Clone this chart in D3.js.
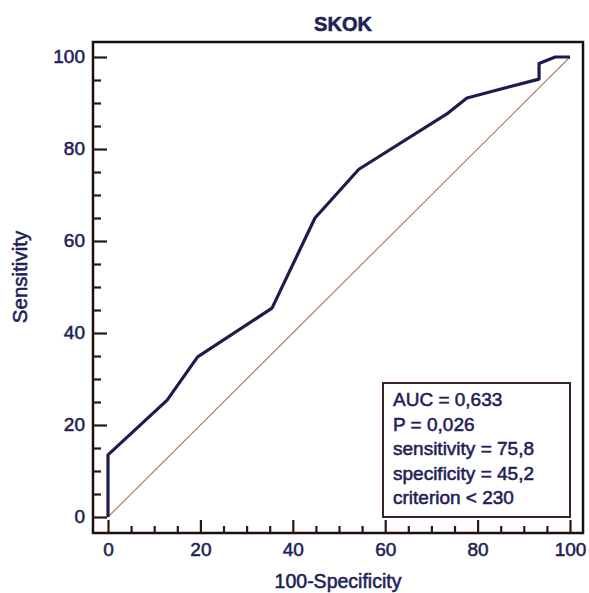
<!DOCTYPE html>
<html>
<head>
<meta charset="utf-8">
<script src="https://cdn.jsdelivr.net/npm/d3@7"></script>
<style>
  html, body { margin: 0; padding: 0; background: #fff; }
  svg { display: block; }
  text { font-family: "Liberation Sans", Arial, sans-serif; fill: #1e2256; stroke: #1e2256; stroke-width: 0.55; }
</style>
</head>
<body>
<svg id="chart" width="589" height="593"></svg>
<script>
// ROC curve points (100-Specificity, Sensitivity)
const fprValues = [0, 0, 12.8, 19.4, 35.5, 44.8, 54.3, 73.6, 77.7, 93.3, 93.3, 96.8, 100];
const tprValues = [0, 13.5, 25.4, 34.8, 45.4, 65, 75.6, 87.8, 91.1, 95.2, 98.6, 100, 100];
const majorTicks = [0, 20, 40, 60, 80, 100];
const minorTicks = d3.range(0, 101, 5).filter(v => v % 20 !== 0);
const title = "SKOK";
const xLabel = "100-Specificity";
const yLabel = "Sensitivity";
const statsLines = ["AUC = 0,633", "P = 0,026", "sensitivity = 75,8", "specificity = 45,2", "criterion < 230"];

const svg = d3.select("#chart");
const x = d3.scaleLinear().domain([0, 100]).range([108, 570]);
const y = d3.scaleLinear().domain([0, 100]).range([517, 57]);

const frame = { left: x(0) - 15, right: x(100) + 13, top: y(100) - 15, bottom: y(0) + 16 };

// diagonal reference
svg.append("line")
  .attr("x1", x(0)).attr("y1", y(0)).attr("x2", x(100)).attr("y2", y(100))
  .attr("stroke", "#b87868").attr("stroke-width", 1.2);

// ROC curve
const pts = fprValues.map((f, i) => [f, tprValues[i]]);
svg.append("path")
  .datum(pts)
  .attr("d", d3.line().x(d => x(d[0])).y(d => y(d[1])))
  .attr("fill", "none")
  .attr("stroke", "#1b1e4c")
  .attr("stroke-width", 3.2)
  .attr("stroke-linejoin", "round");

// x axis (ticks inward from bottom frame)
const gx = svg.append("g").attr("transform", `translate(0,${frame.bottom})`)
  .call(d3.axisBottom(x).tickValues(majorTicks).tickSizeInner(-13).tickSizeOuter(0).tickPadding(10));
const gxm = svg.append("g").attr("transform", `translate(0,${frame.bottom})`)
  .call(d3.axisBottom(x).tickValues(minorTicks).tickSizeInner(-7).tickSizeOuter(0).tickFormat(""));

// y axis (ticks inward from left frame)
const gy = svg.append("g").attr("transform", `translate(${frame.left},0)`)
  .call(d3.axisLeft(y).tickValues(majorTicks).tickSizeInner(-14).tickSizeOuter(0).tickPadding(8));
const gym = svg.append("g").attr("transform", `translate(${frame.left},0)`)
  .call(d3.axisLeft(y).tickValues(minorTicks).tickSizeInner(-8).tickSizeOuter(0).tickFormat(""));

[gx, gxm, gy, gym].forEach(g => {
  g.select(".domain").remove();
  g.selectAll(".tick line").attr("stroke", "#2a1712").attr("stroke-width", 2.2);
  g.selectAll(".tick text").attr("font-size", 19).attr("font-family", "Liberation Sans, Arial, sans-serif")
    .attr("fill", "#1e2256").attr("stroke", "#1e2256").attr("stroke-width", 0.55);
});
gy.selectAll(".tick text").attr("dy", "0.28em");

// frame
svg.append("rect")
  .attr("x", frame.left).attr("y", frame.top)
  .attr("width", frame.right - frame.left).attr("height", frame.bottom - frame.top)
  .attr("fill", "none").attr("stroke", "#1c0f0c").attr("stroke-width", 2.5);

// title
svg.append("text").attr("x", 343).attr("y", 31).attr("text-anchor", "middle")
  .attr("font-size", 20).attr("font-weight", "bold").attr("stroke-width", 0.2).text(title);

// axis labels
svg.append("text").attr("x", 338).attr("y", 588).attr("text-anchor", "middle")
  .attr("font-size", 19.5).text(xLabel);
svg.append("text").attr("transform", "translate(27,277) rotate(-90)").attr("text-anchor", "middle")
  .attr("font-size", 20.5).text(yLabel);

// stats box
svg.append("rect").attr("x", 383).attr("y", 383).attr("width", 187).attr("height", 134)
  .attr("fill", "#fff").attr("stroke", "#3a2520").attr("stroke-width", 2);
svg.append("g").selectAll("text").data(statsLines).join("text")
  .attr("x", 393).attr("y", (d, i) => 406 + i * 24.5)
  .attr("font-size", 19).text(d => d);
</script>
</body>
</html>
